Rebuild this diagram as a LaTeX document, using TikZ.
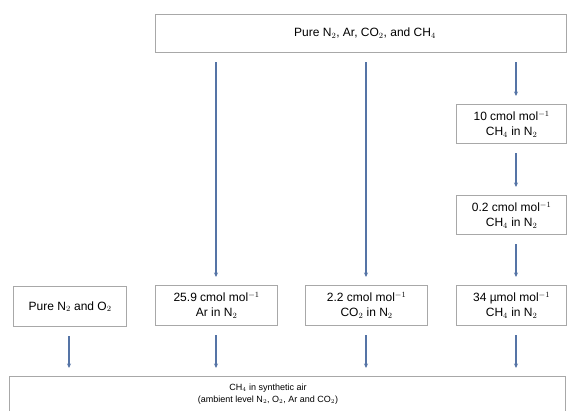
\documentclass[tikz,border=0pt]{standalone}
\usepackage{fontspec}
\setmainfont{Liberation Sans}
\usetikzlibrary{arrows.meta,calc}
\definecolor{boxgray}{HTML}{A8A8A8}
\definecolor{arrowblue}{HTML}{5574A6}
\begin{document}
\begin{tikzpicture}[x=1pt,y=-1pt,
  box/.style={draw=boxgray, line width=1.2pt, rectangle, inner sep=0pt, align=center,
    font=\fontsize{12}{15}\selectfont, anchor=north west},
  lbl/.style={inner sep=0pt, align=center, font=\fontsize{12}{15}\selectfont},
  small/.style={inner sep=0pt, align=center, font=\fontsize{9}{11.5}\selectfont},
  flow/.style={draw=arrowblue, line width=1.4pt, -{Stealth[length=4.5pt,width=4pt]},
    shorten <=9pt, shorten >=8pt}]
\useasboundingbox (0,0) rectangle (568,410);
\clip (0,0) rectangle (568,410);
% column lines
\coordinate (c1) at (69,0);
\coordinate (c2) at (216,0);
\coordinate (c3) at (366,0);
\coordinate (c4) at (516,0);
% boxes
\node[box, minimum width=411pt, minimum height=38pt] (top) at (155,14) {};
\node[lbl] (toptext) at (365,33) {Pure N$_2$, Ar, CO$_2$, and CH$_4$};
\node[box, minimum width=110pt, minimum height=39pt] (b10) at (456,104)
  {10 cmol mol$^{-1}$\\CH$_4$ in N$_2$};
\node[box, minimum width=110pt, minimum height=39pt] (b02) at (456,195)
  {0.2 cmol mol$^{-1}$\\CH$_4$ in N$_2$};
\node[box, minimum width=113pt, minimum height=40pt] (pure) at (13,286)
  {Pure N$_2$ and O$_2$};
\node[box, minimum width=122pt, minimum height=40pt] (ar) at (155,285)
  {25.9 cmol mol$^{-1}$\\Ar in N$_2$};
\node[box, minimum width=122pt, minimum height=40pt] (co2) at (305,285)
  {2.2 cmol mol$^{-1}$\\CO$_2$ in N$_2$};
\node[box, minimum width=110pt, minimum height=40pt] (ch4) at (456,285)
  {34 µmol mol$^{-1}$\\CH$_4$ in N$_2$};
\node[box, minimum width=556pt, minimum height=60pt] (air) at (9,376) {};
\node[small] (airtext) at (268,394)
  {CH$_4$ in synthetic air\\(ambient level N$_2$, O$_2$, Ar and CO$_2$)};
% arrows
\draw[flow] (top.south -| c2) -- (ar.north -| c2);
\draw[flow] (top.south -| c3) -- (co2.north -| c3);
\draw[flow] (top.south -| c4) -- (b10.north -| c4);
\draw[flow] (b10.south -| c4) -- (b02.north -| c4);
\draw[flow] (b02.south -| c4) -- (ch4.north -| c4);
\draw[flow] (pure.south -| c1) -- (air.north -| c1);
\draw[flow] (ar.south -| c2) -- (air.north -| c2);
\draw[flow] (co2.south -| c3) -- (air.north -| c3);
\draw[flow] (ch4.south -| c4) -- (air.north -| c4);
\end{tikzpicture}
\end{document}
